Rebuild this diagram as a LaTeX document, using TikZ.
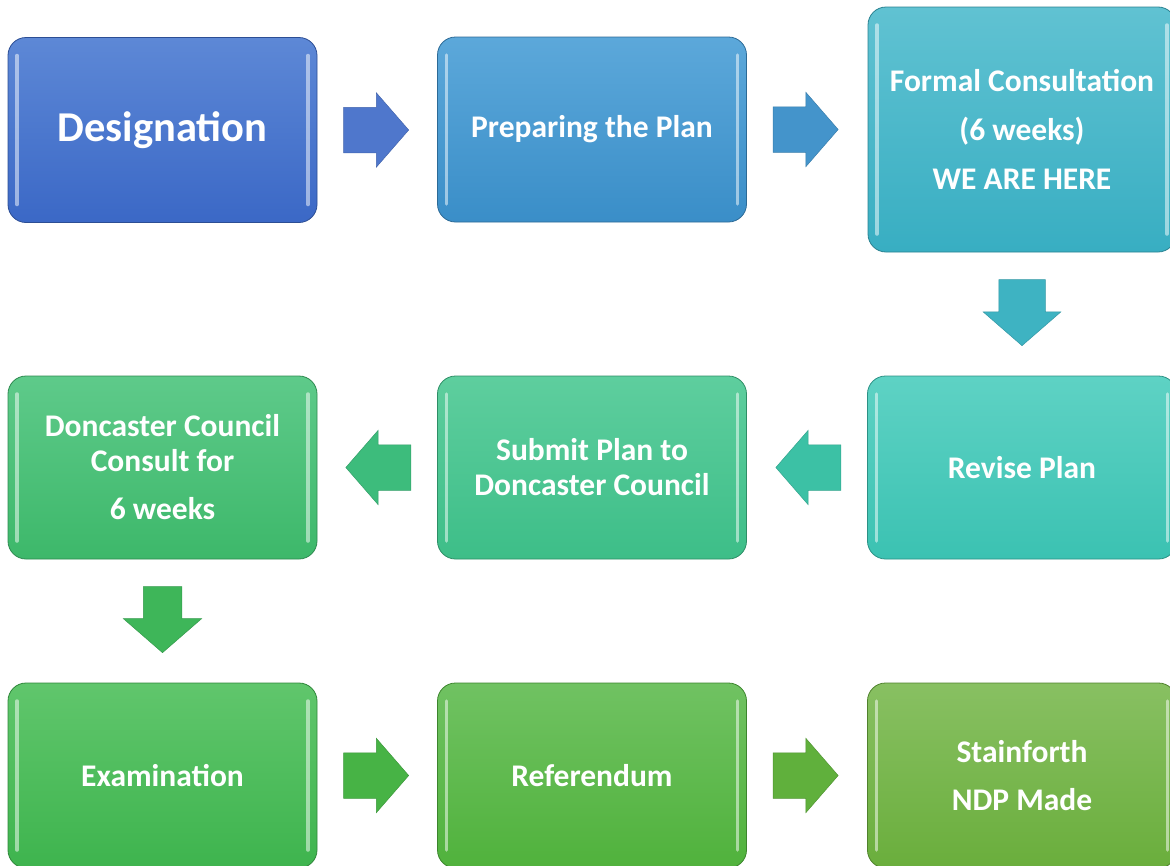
\documentclass[tikz,border=0pt]{standalone}
\usepackage{fontspec}
\setmainfont{Carlito}
\usetikzlibrary{shapes.arrows}
\definecolor{desigtop}{HTML}{5D88D6}\definecolor{desigbot}{HTML}{3B68C6}
\definecolor{preptop}{HTML}{5CA8DA}\definecolor{prepbot}{HTML}{3A8EC8}
\definecolor{formtop}{HTML}{60C2D2}\definecolor{formbot}{HTML}{38AEC2}
\definecolor{revtop}{HTML}{5ED2C4}\definecolor{revbot}{HTML}{3BC2B2}
\definecolor{subtop}{HTML}{5ECE9E}\definecolor{subbot}{HTML}{3DBE88}
\definecolor{dontop}{HTML}{5ECA8A}\definecolor{donbot}{HTML}{3DB86A}
\definecolor{examtop}{HTML}{60C66C}\definecolor{exambot}{HTML}{3EB44E}
\definecolor{reftop}{HTML}{70C262}\definecolor{refbot}{HTML}{50B23C}
\definecolor{stntop}{HTML}{88C062}\definecolor{stnbot}{HTML}{6AAE3C}
\begin{document}
\begin{tikzpicture}[x=1pt,y=-1pt,
  stage/.style 2 args={rectangle,rounded corners=18pt,top color=#1,bottom color=#2,
    draw=#2!75!black,line width=0.8pt,minimum width=309pt,minimum height=185pt,
    text=white,align=center,inner sep=0pt,
    font=\bfseries\fontsize{31.5}{35}\selectfont,
    path picture={
      \draw[white,opacity=0.5,line width=3.5pt,line cap=round]
        ([xshift=9pt,yshift=-18pt]path picture bounding box.north west) --
        ([xshift=9pt,yshift=18pt]path picture bounding box.south west);
      \draw[white,opacity=0.5,line width=3.5pt,line cap=round]
        ([xshift=-9pt,yshift=-18pt]path picture bounding box.north east) --
        ([xshift=-9pt,yshift=18pt]path picture bounding box.south east);}},
  flow/.style={single arrow,fill=#1,draw=#1!85!black,line width=0.5pt,anchor=tail,
    inner xsep=0pt,inner ysep=22.5pt,minimum height=65pt,minimum width=74pt,
    single arrow head extend=14.5pt,single arrow tip angle=98},
  flowdown/.style={flow=#1,shape border rotate=270,inner ysep=0pt,minimum height=66pt}]
\useasboundingbox (0,0) rectangle (1170,865);

% Top row
\node[stage={desigtop}{desigbot},font=\bfseries\fontsize{42.5}{48}\selectfont]
  (desig) at (162.5,130) {Designation};
\node[stage={preptop}{prepbot}] (prep) at (592,129.5) {Preparing the Plan};
\node[stage={formtop}{formbot},minimum width=308pt,minimum height=245pt]
  (formal) at (1022,129.5) {Formal Consultation\\[14pt](6 weeks)\\[14pt]WE ARE HERE};

% Middle row
\node[stage={revtop}{revbot},minimum height=183pt] (revise) at (1022,467.5) {Revise Plan};
\node[stage={subtop}{subbot},minimum height=183pt] (submit) at (592,467.5)
  {Submit Plan to\\Doncaster Council};
\node[stage={dontop}{donbot},minimum height=183pt] (consult) at (162.5,467.5)
  {Doncaster Council\\Consult for\\[13pt]6 weeks};

% Bottom row
\node[stage={examtop}{exambot}] (exam) at (162.5,775.5) {Examination};
\node[stage={reftop}{refbot}] (refer) at (592,775.5) {Referendum};
\node[stage={stntop}{stnbot}] (made) at (1022,775.5) {Stainforth\\[13pt]NDP Made};

% Block arrows
\node[flow=desigbot!90!white] (a1) at ([xshift=26pt]desig.east) {};
\node[flow=prepbot!95!white] (a2) at ([xshift=26pt]prep.east) {};
\node[flowdown=formbot!85!revtop,inner xsep=23pt,minimum width=77pt,
  single arrow head extend=15.5pt] (a3) at ([yshift=-27pt]formal.south) {};
\node[flow=revbot!70!subbot,shape border rotate=180] (a4) at ([xshift=-26pt]revise.west) {};
\node[flow=subbot!60!donbot,shape border rotate=180] (a5) at ([xshift=-26pt]submit.west) {};
\node[flowdown=donbot!40!exambot,inner xsep=19pt,minimum width=78pt,
  single arrow head extend=20pt] (a6) at ([yshift=-27pt]consult.south) {};
\node[flow=exambot!50!refbot] (a7) at ([xshift=26pt]exam.east) {};
\node[flow=refbot!40!stnbot] (a8) at ([xshift=26pt]refer.east) {};
\end{tikzpicture}
\end{document}
